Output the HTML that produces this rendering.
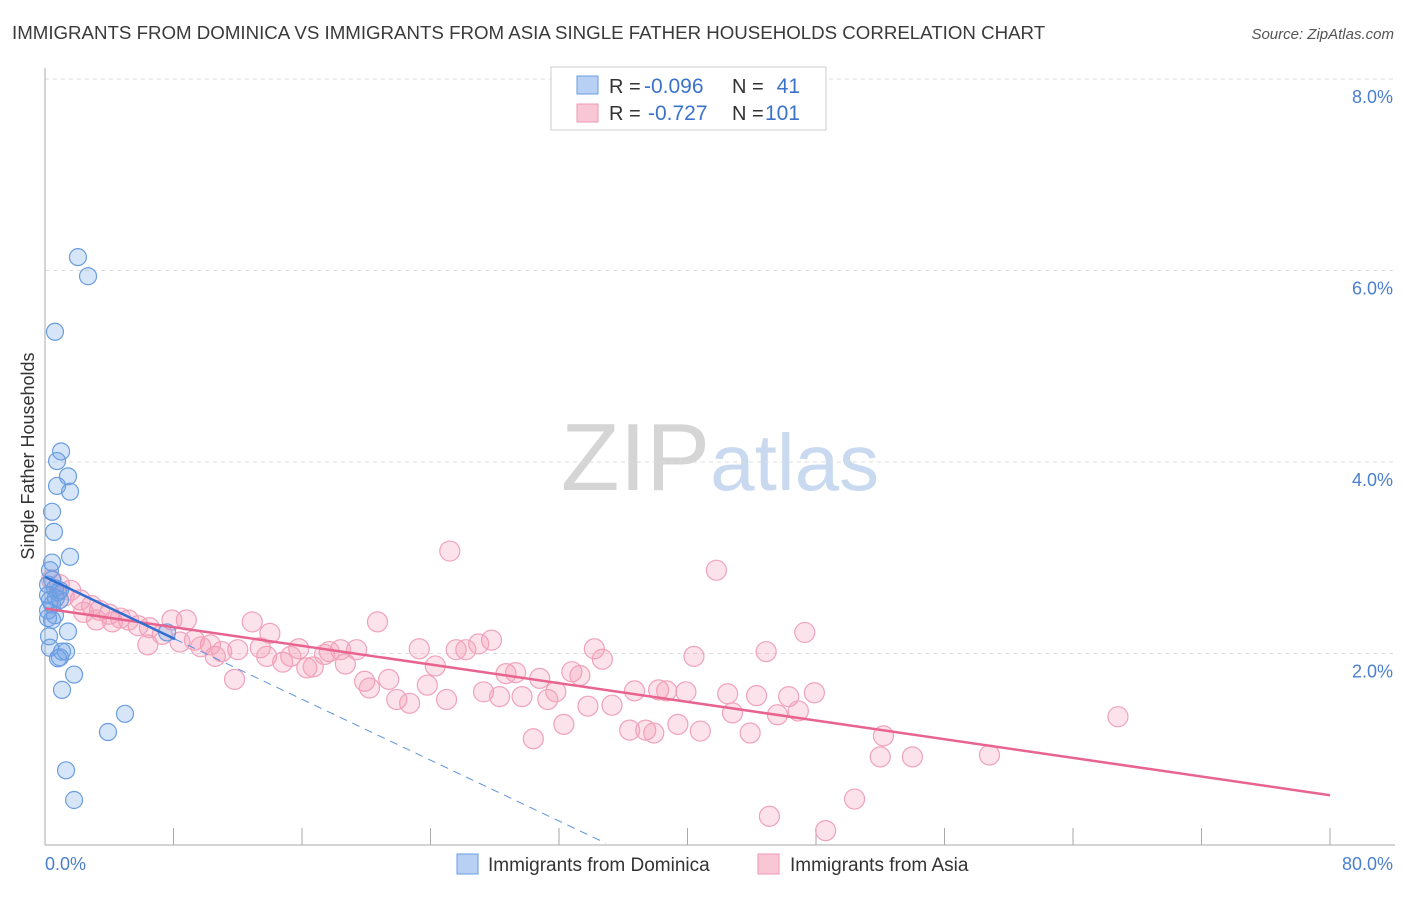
<!DOCTYPE html>
<html><head><meta charset="utf-8"><style>
body{margin:0;background:#fff;font-family:"Liberation Sans",sans-serif;}
svg text{font-family:"Liberation Sans",sans-serif;}
</style></head><body>
<svg id="chart" width="1406" height="892" xmlns="http://www.w3.org/2000/svg">
<text x="12" y="39" font-size="18.7" fill="#3a3a3a">IMMIGRANTS FROM DOMINICA VS IMMIGRANTS FROM ASIA SINGLE FATHER HOUSEHOLDS CORRELATION CHART</text>
<text x="1394" y="39" font-size="15" fill="#555" text-anchor="end" font-style="italic">Source: ZipAtlas.com</text>
<text x="720" y="490" font-size="96" text-anchor="middle" fill="#d8d8d8" font-family="Liberation Serif"><tspan fill="#d5d5d5">ZIP</tspan><tspan fill="#c9d9ef" font-family="Liberation Sans" font-size="80">atlas</tspan></text>
<g id="grid"></g>
<g id="axes"></g>
<g id="pts"></g>
<g id="lines"></g>
<text transform="translate(34,456) rotate(-90)" font-size="18" fill="#333" text-anchor="middle">Single Father Households</text>
<g>
<rect x="551" y="67" width="275" height="63" fill="#fff" stroke="#ccc"/>
<rect x="577" y="76" width="21" height="18" fill="#b7d0f3" stroke="#6a9de0"/>
<rect x="577" y="104" width="21" height="18" fill="#f9c6d5" stroke="#ee9ab5"/>
<text x="609" y="93" font-size="20" fill="#333">R =</text>
<text x="644" y="93" font-size="21" fill="#3a73c9">-0.096</text>
<text x="732" y="93" font-size="20" fill="#333">N =</text>
<text x="800" y="93" font-size="21" fill="#3a73c9" text-anchor="end">41</text>
<text x="609" y="120" font-size="20" fill="#333">R =</text>
<text x="648" y="120" font-size="21" fill="#3a73c9">-0.727</text>
<text x="732" y="120" font-size="20" fill="#333">N =</text>
<text x="800" y="120" font-size="21" fill="#3a73c9" text-anchor="end">101</text>
</g>
<g>
<rect x="457" y="854" width="21" height="20" fill="#b7d0f3" stroke="#6a9de0"/>
<text x="488" y="871" font-size="19" fill="#333">Immigrants from Dominica</text>
<rect x="758" y="854" width="21" height="20" fill="#f9c6d5" stroke="#ee9ab5"/>
<text x="790" y="871" font-size="19" fill="#333">Immigrants from Asia</text>
</g>
</svg>
<script>
const yTicks=[2,4,6,8];
const yTickLabels=["2.0%","4.0%","6.0%","8.0%"];
const xEndLabels=["0.0%","80.0%"];
const blueX=[2.05,2.68,0.62,1.00,0.75,1.43,0.75,1.56,0.44,0.56,1.56,0.44,0.31,0.44,0.62,0.19,0.31,0.81,0.44,0.19,0.93,0.62,0.19,1.43,0.25,0.31,1.06,0.93,1.31,0.81,1.81,1.06,4.98,3.92,1.31,1.81,7.60,0.44,0.68,0.19,0.93];
const blueY=[6.14,5.94,5.36,4.11,4.01,3.85,3.75,3.69,3.48,3.27,3.01,2.95,2.87,2.77,2.68,2.61,2.56,2.64,2.51,2.45,2.56,2.40,2.37,2.23,2.18,2.06,2.02,1.96,2.02,1.95,1.78,1.62,1.37,1.18,0.78,0.47,2.22,2.35,2.58,2.72,2.66];
const pinkX=[25.2,41.8,47.3,66.8,20.7,34.2,34.7,40.4,44.9,27.8,27.0,26.2,25.6,23.3,24.3,19.4,18.4,17.7,17.4,15.8,15.3,14.8,14.0,12.9,13.4,13.8,12.0,11.0,10.6,10.3,9.3,8.8,7.9,7.3,6.4,5.8,5.2,4.7,4.0,3.4,2.9,2.2,1.6,0.9,0.4,2.4,3.2,4.2,6.5,8.4,9.7,11.8,16.3,16.7,18.7,19.9,20.2,21.4,21.9,22.7,23.8,25.0,27.3,28.3,28.7,29.3,29.7,30.8,31.3,31.8,32.8,33.3,33.8,32.3,30.4,35.3,36.7,36.4,37.4,37.9,38.2,38.7,39.4,39.9,40.8,42.5,42.8,43.9,44.3,45.6,46.3,46.9,47.9,52.2,54.0,52.0,58.8,50.4,45.1,48.6,1.2];
const pinkY=[3.07,2.87,2.22,1.34,2.33,2.05,1.94,1.97,2.02,2.14,2.10,2.04,2.04,2.05,1.87,2.04,2.04,2.02,1.99,2.05,1.97,1.91,2.21,2.33,2.06,1.97,2.04,2.02,1.97,2.09,2.14,2.35,2.35,2.20,2.09,2.29,2.35,2.37,2.41,2.45,2.50,2.56,2.66,2.72,2.77,2.43,2.35,2.33,2.27,2.12,2.07,1.73,1.85,1.86,1.89,1.71,1.64,1.73,1.52,1.48,1.67,1.52,1.60,1.55,1.79,1.80,1.55,1.74,1.52,1.60,1.81,1.77,1.45,1.26,1.11,1.46,1.61,1.20,1.20,1.17,1.62,1.61,1.26,1.60,1.19,1.58,1.38,1.17,1.56,1.36,1.55,1.40,1.59,1.14,0.92,0.92,0.94,0.48,0.30,0.15,2.60];
const pinkTrend=[[0,2.47],[80,0.52]];
const blueTrend=[[0,2.8],[8.1,2.15]];
const blueDash=[[8.1,2.15],[34.9,0.02]];
const X0=45,X1=1330,Y0=845,PY=95.75;
const sx=v=>X0+(X1-X0)*v/80, sy=v=>Y0-v*PY;
const NS="http://www.w3.org/2000/svg";
function mk(tag,attrs,parent){const e=document.createElementNS(NS,tag);for(const k in attrs)e.setAttribute(k,attrs[k]);parent.appendChild(e);return e;}
const grid=document.getElementById('grid'),axes=document.getElementById('axes'),pts=document.getElementById('pts'),lines=document.getElementById('lines');
yTicks.forEach((t,i)=>{
 const l=mk('line',{x1:X0,x2:1395,y1:sy(t),y2:sy(t),stroke:'#ddd','stroke-dasharray':'4,4'},grid);
 
 
 const tx=mk('text',{x:1393,y:sy(t)+24,'font-size':18,fill:'#4a7fd0','text-anchor':'end'},grid);
 tx.textContent=yTickLabels[i];
 
 
});
let a=mk('line',{x1:X0,x2:X0,y1:68,y2:Y0,stroke:'#aaa'},axes);


a=mk('line',{x1:X0,x2:1395,y1:Y0,y2:Y0,stroke:'#aaa'},axes);


for(let v=8;v<=80;v+=8){const t=mk('line',{x1:sx(v),x2:sx(v),y1:Y0,y2:Y0-17,stroke:'#aaa'},axes);
 
 }
[0,80].forEach((v,i)=>{const t=mk('text',{x:i?1393:45,y:870,'font-size':18,fill:'#4a7fd0','text-anchor':i?'end':'start'},axes);
 t.textContent=xEndLabels[i];
 
 });
pinkX.forEach((x,i)=>{const c=mk('circle',{cx:sx(x),cy:sy(pinkY[i]),r:10,fill:'rgba(244,150,180,0.28)',stroke:'#f0a2bb','stroke-width':1.2},pts);
 
 });
blueX.forEach((x,i)=>{const c=mk('circle',{cx:sx(x),cy:sy(blueY[i]),r:8.5,fill:'rgba(110,160,230,0.28)',stroke:'#6a9de0','stroke-width':1.2},pts);
 
 });
function ln(p,st,w,dash,name){const l=mk('line',{x1:sx(p[0][0]),y1:sy(p[0][1]),x2:sx(p[1][0]),y2:sy(p[1][1]),stroke:st,'stroke-width':w},lines);
 if(dash)l.setAttribute('stroke-dasharray',dash);
 
 }
ln(pinkTrend,'#e8648f',2.5,null,'asia-trend-line');
ln(blueDash,'#5f93dc',1,'8,6','dominica-trend-extension');
ln(blueTrend,'#2f6fd0',2.5,null,'dominica-trend-line');
</script>
</body></html>
